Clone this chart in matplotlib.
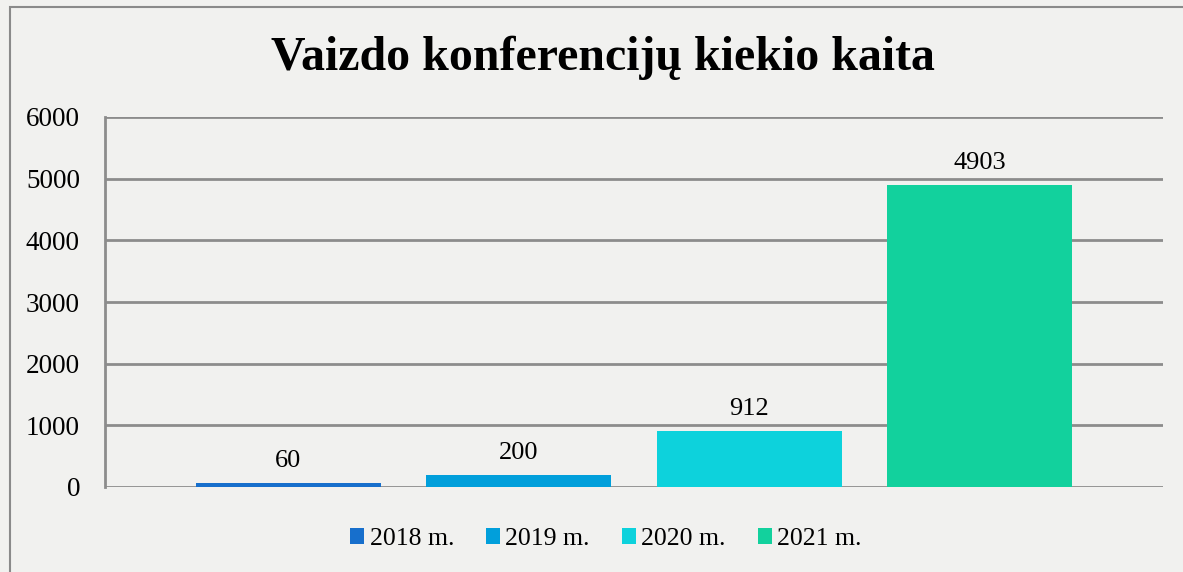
import matplotlib.pyplot as plt
from matplotlib.patches import Rectangle

# ----------------------------------------------------
# Data
# ----------------------------------------------------
years = ["2018 m.", "2019 m.", "2020 m.", "2021 m."]
counts = [60, 200, 912, 4903]
colors = ["#176fcc", "#019fdb", "#0dd2dc", "#12d19d"]
y_ticks = [0, 1000, 2000, 3000, 4000, 5000, 6000]

plt.rcParams["font.family"] = ["Liberation Serif", "DejaVu Serif"]

# ----------------------------------------------------
# Figure
# ----------------------------------------------------
fig = plt.figure(figsize=(11.83, 5.72), dpi=100, facecolor="#f1f1ef")
ax = fig.add_axes([105 / 1183, 1 - 487 / 572, 1058 / 1183, 370 / 572])
ax.set_facecolor("none")

# chart frame
fig.patches.append(Rectangle((10 / 1183, -0.05), 1.2, 1 - 7 / 572 + 0.05,
                             transform=fig.transFigure, fill=False,
                             edgecolor="#8a8a8a", linewidth=1.5))

for i, (lab, val, col) in enumerate(zip(years, counts, colors)):
    ax.bar(i, val, width=0.804, color=col, label=lab, zorder=3)
    ax.text(i, val + 180, str(val), ha="center", va="bottom", fontsize=19)

ax.set_xlim(-0.796, 3.796)
ax.set_ylim(0, 6000)
ax.set_yticks(y_ticks)
ax.set_xticks([])
ax.tick_params(axis="y", length=0, labelsize=19.5, pad=18)
ax.grid(axis="y", color="#8c8c8c", linewidth=2, zorder=0)
for s in ["top", "right", "bottom"]:
    ax.spines[s].set_visible(False)
ax.spines["left"].set_color("#8c8c8c")
ax.spines["left"].set_linewidth(2)

fig.text(603 / 1183, 1 - 58 / 572, "Vaizdo konferencijų kiekio kaita",
         ha="center", va="center", fontsize=34.5, fontweight="bold")

fig.legend(loc="center", bbox_to_anchor=(606 / 1183, 1 - 539 / 572), ncol=4,
           frameon=False, fontsize=18.5, handlelength=0.55, handleheight=0.55,
           handletextpad=0.2, columnspacing=1.25)

plt.savefig("out.png", dpi=100, facecolor=fig.get_facecolor())
